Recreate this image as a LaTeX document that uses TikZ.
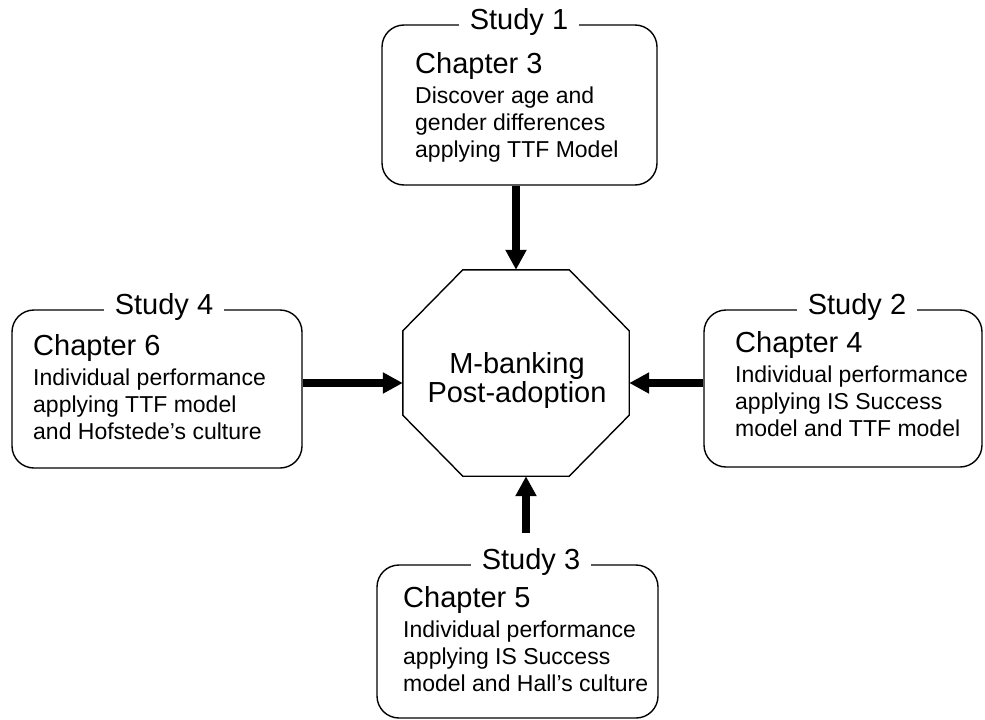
\documentclass[tikz,border=0pt]{standalone}
\usepackage{fontspec}
\setmainfont{Liberation Sans}
\usetikzlibrary{arrows.meta}

\begin{document}
\begin{tikzpicture}[x=1pt,y=-1pt,
  studybox/.style={draw=black, line width=1.4pt, rounded corners=22pt, inner sep=0pt},
  studylab/.style={fill=white, inner xsep=11pt, inner ysep=0pt, anchor=base,
    font=\fontsize{29}{29}\selectfont},
  chaptxt/.style={anchor=base west, inner sep=0pt, font=\fontsize{29}{29}\selectfont},
  bodytxt/.style={anchor=base west, inner sep=0pt, align=left,
    font=\fontsize{23}{27}\selectfont},
  octline/.style={draw=black, line width=1.4pt},
  bigarrow/.style={line width=7.5pt, -{Triangle[length=20pt,width=20pt]}}
]
\useasboundingbox[fill=white] (0,0) rectangle (985,720);

% central octagon
\node[minimum width=226pt, minimum height=206pt, inner sep=0pt] (hub) at (516,373) {};
\draw[octline] ([xshift=60pt]hub.north west) -- ([xshift=-60pt]hub.north east)
  -- ([yshift=-61pt]hub.north east) -- ([yshift=61pt]hub.south east)
  -- ([xshift=-60pt]hub.south east) -- ([xshift=60pt]hub.south west)
  -- ([yshift=61pt]hub.south west) -- ([yshift=-61pt]hub.north west) -- cycle;
% (base anchor of a multi-line node is the baseline of its last line)
\node[anchor=base, inner sep=0pt, align=center, font=\fontsize{29}{29}\selectfont]
  (hubtext) at (517,402) {M-banking\\Post-adoption};

% study boxes
\node[studybox, minimum width=275pt, minimum height=160pt] (box1) at (519.5,105) {};
\node[studybox, minimum width=290pt, minimum height=158pt] (box4) at (157,389) {};
\node[studybox, minimum width=278pt, minimum height=157pt] (box2) at (843,388.5) {};
\node[studybox, minimum width=281pt, minimum height=153pt] (box3) at (517.5,641.5) {};

% titles sitting on the top borders
\node[studylab] (lab1) at (519,29) {Study 1};
\node[studylab] (lab4) at (164,314) {Study 4};
\node[studylab] (lab2) at (857,314) {Study 2};
\node[studylab] (lab3) at (531,569) {Study 3};

% box contents
\node[chaptxt] (ch3) at (415,73) {Chapter 3};
\node[bodytxt] (tx3) at (415,157) {Discover age and\\gender differences\\applying TTF Model};

\node[chaptxt] (ch6) at (33,355) {Chapter 6};
\node[bodytxt] (tx6) at (33,439) {Individual performance\\applying TTF model\\and Hofstede’s culture};

\node[chaptxt] (ch4) at (735,352) {Chapter 4};
\node[bodytxt] (tx4) at (735,436) {Individual performance\\applying IS Success\\model and TTF model};

\node[chaptxt] (ch5) at (403,607) {Chapter 5};
\node[bodytxt] (tx5) at (403,691) {Individual performance\\applying IS Success\\model and Hall’s culture};

% connectors
\coordinate (hy) at (0,383);
\coordinate (b3) at (526,533);
\draw[bigarrow] (box1.south -| hub.center) -- (hub.north);
\draw[bigarrow] (box4.east |- hy) -- (hub.west |- hy);
\draw[bigarrow] (box2.west |- hy) -- (hub.east |- hy);
\draw[bigarrow] (b3) -- (b3 |- hub.south);
\end{tikzpicture}
\end{document}
